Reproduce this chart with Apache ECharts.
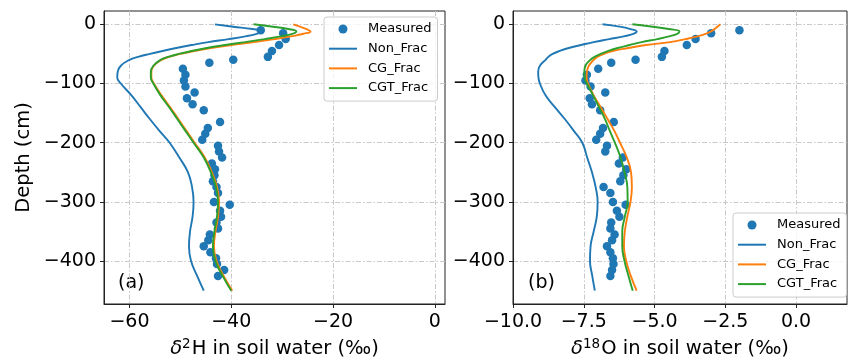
<!DOCTYPE html>
<html>
<head>
<meta charset="utf-8">
<script src="https://cdn.jsdelivr.net/npm/echarts@6/dist/echarts.min.js"></script>
<style>
html, body { margin: 0; padding: 0; background: #fff; }
#chart { width: 848px; height: 363px; }
</style>
</head>
<body>
<div id="chart"></div>
<script>
// measured soil water profile
const measDepth = [-10, -15, -25, -35, -45, -55, -60, -65, -75, -85, -95, -105, -115, -125, -135, -145,
  -165, -175, -185, -195, -205, -215, -225, -235, -245, -255, -265, -275, -285, -300, -305, -315,
  -325, -335, -345, -355, -365, -375, -385, -395, -405, -415, -425]
const measH = [-34.2, -29.8, -29.3, -30.6, -32.0, -32.8, -39.6, -44.3, -49.5, -49.0, -49.3, -49.0, -47.2, -48.7, -47.6, -45.4,
  -42.2, -44.6, -45.1, -45.7, -42.6, -42.4, -41.8, -43.8, -43.2, -43.3, -43.6, -42.9, -42.6, -43.4, -40.3, -42.2,
  -42.0, -42.9, -42.6, -44.2, -44.5, -45.4, -44.1, -43.0, -42.8, -41.4, -42.6]
const measO = [-2.0, -3.0, -3.55, -3.86, -4.65, -4.74, -5.67, -6.53, -6.99, -7.39, -7.44, -7.26, -6.74, -7.29, -7.21, -6.92,
  -6.44, -6.82, -6.92, -7.06, -6.68, -6.74, -6.12, -6.26, -6.0, -6.1, -6.21, -6.8, -6.56, -6.47, -6.02, -6.33,
  -6.24, -6.53, -6.56, -6.41, -6.5, -6.68, -6.56, -6.47, -6.45, -6.5, -6.56]

// simulated profiles
const modelDepth = [0, -4, -8, -12, -16, -20, -25, -30, -35, -40, -45, -50, -55, -60, -70, -80, -90, -100,
  -120, -140, -160, -180, -200, -225, -250, -275, -300, -325, -350, -375, -400, -425, -450]
const nonFracH = [-43.2, -39.6, -35.8, -33.8, -35.0, -37.0, -40.5, -44.5, -47.8, -50.8, -53.5, -56.0, -58.3, -60.0, -61.7, -62.3, -62.4, -61.7,
  -59.6, -57.8, -56.0, -54.1, -52.1, -50.2, -48.5, -47.7, -47.4, -47.6, -48.1, -48.3, -47.9, -46.7, -45.4]
const cgFracH = [-27.8, -26.5, -25.2, -24.4, -25.8, -28.0, -31.5, -35.5, -40.0, -44.0, -47.3, -50.0, -52.2, -53.7, -55.2, -55.7, -55.7, -55.2,
  -53.7, -52.0, -50.4, -48.8, -47.2, -45.2, -43.8, -42.8, -42.4, -42.6, -43.1, -43.4, -42.9, -41.5, -39.8]
const cgtFracH = [-35.6, -31.8, -28.8, -27.2, -28.0, -30.0, -33.5, -37.3, -41.2, -44.8, -47.8, -50.3, -52.4, -53.9, -55.3, -55.8, -55.8, -55.3,
  -53.9, -52.2, -50.6, -49.0, -47.4, -45.4, -44.0, -43.0, -42.6, -42.8, -43.3, -43.6, -43.1, -41.7, -40.0]
const nonFracO = [-6.84, -6.23, -5.85, -5.63, -5.75, -6.05, -6.6, -7.15, -7.6, -8.03, -8.35, -8.6, -8.75, -8.85, -9.05, -9.11, -9.1, -9.05,
  -8.85, -8.52, -8.17, -7.85, -7.55, -7.38, -7.21, -7.08, -7.01, -7.04, -7.15, -7.26, -7.28, -7.2, -7.11]
const cgFracO = [-2.67, -2.78, -2.88, -3.0, -3.2, -3.45, -3.9, -4.45, -5.3, -5.93, -6.48, -6.78, -7.02, -7.15, -7.32, -7.39, -7.4, -7.35,
  -7.15, -6.9, -6.66, -6.42, -6.22, -5.98, -5.83, -5.8, -5.85, -5.96, -6.05, -6.08, -6.0, -5.84, -5.63]
const cgtFracO = [-5.78, -5.06, -4.5, -4.12, -4.2, -4.45, -4.9, -5.45, -5.88, -6.3, -6.63, -6.9, -7.12, -7.27, -7.44, -7.48, -7.47, -7.39,
  -7.17, -6.96, -6.75, -6.58, -6.4, -6.2, -6.06, -5.96, -5.95, -6.05, -6.14, -6.14, -6.06, -5.92, -5.77]

const hTicks = [-60, -40, -20, 0]
const oTicks = [-10, -7.5, -5, -2.5, 0]
const depthTicks = [-400, -300, -200, -100, 0]
const names = ['Measured', 'Non_Frac', 'CG_Frac', 'CGT_Frac']
const colors = ['#1f77b4', '#1f77b4', '#ff7f0e', '#2ca02c']

const FONT = 'DejaVu Sans'
const pair = (xs, ys) => xs.map((x, i) => [x, ys[i]])
const minus = s => String(s).replace('-', '\u2212')
// plain horizontal stroke for the line entries of the legend
const LINE_ICON = 'path://M0,0h28v2h-28z'

const chart = echarts.init(document.getElementById('chart'), null, { renderer: 'canvas' })

const gridLine = { show: true, lineStyle: { color: '#c8c8c8', width: 1, type: [5, 2, 1.5, 2] } }
const nameStyle = {
  fontFamily: FONT, fontSize: 19.5, color: '#000',
  rich: {
    d: { fontFamily: FONT, fontSize: 19.5, fontStyle: 'italic', color: '#000', lineHeight: 24 },
    s: { fontFamily: FONT, fontSize: 13.5, color: '#000', verticalAlign: 'top', lineHeight: 24, padding: [0, 1, 0, 0] },
    n: { fontFamily: FONT, fontSize: 19.5, color: '#000', lineHeight: 24 }
  }
}

function xAxis (idx, min, max, ticks, fmt, name) {
  return {
    type: 'value', gridIndex: idx, min: min, max: max,
    axisLine: { show: true, onZero: false, lineStyle: { color: '#222', width: 1 } },
    axisTick: { show: true, length: 4, customValues: ticks, lineStyle: { color: '#222' } },
    axisLabel: { customValues: ticks, formatter: fmt, color: '#000', fontFamily: FONT, fontSize: 19, margin: 9 },
    splitLine: gridLine,
    name: name, nameLocation: 'middle', nameGap: 33, nameMoveOverlap: false,
    nameTextStyle: nameStyle
  }
}
function yAxis (idx, name) {
  return {
    type: 'value', gridIndex: idx, min: -472.5, max: 22.5,
    axisLine: { show: true, onZero: false, lineStyle: { color: '#222', width: 1 } },
    axisTick: { show: true, length: 4, customValues: depthTicks, lineStyle: { color: '#222' } },
    axisLabel: { customValues: depthTicks, formatter: v => minus(v), color: '#000', fontFamily: FONT, fontSize: 19, margin: 8 },
    splitLine: gridLine,
    name: name, nameLocation: 'middle', nameGap: 70, nameRotate: 90, nameMoveOverlap: false,
    nameTextStyle: { fontFamily: FONT, fontSize: 19.5, color: '#000' }
  }
}

function panelSeries (idx, meas, lines) {
  const out = [{
    name: names[0], type: 'scatter', xAxisIndex: idx, yAxisIndex: idx,
    data: pair(meas, measDepth), symbolSize: 8.5,
    itemStyle: { color: colors[0], opacity: 1 }
  }]
  lines.forEach((vals, i) => {
    out.push({
      name: names[i + 1], type: 'line', xAxisIndex: idx, yAxisIndex: idx,
      data: pair(vals, modelDepth), symbol: 'none', smooth: 0.45,
      lineStyle: { color: colors[i + 1], width: 1.9 },
      itemStyle: { color: colors[i + 1] }
    })
  })
  return out
}

function legend (left, top) {
  return {
    left: left, top: top, orient: 'vertical', selectedMode: false,
    itemWidth: 28, itemHeight: 9, itemGap: 6.7,
    padding: [5.5, 6, 6.5, 5],
    backgroundColor: 'rgba(255,255,255,0.8)', borderColor: '#cccccc', borderWidth: 1, borderRadius: 3,
    textStyle: { fontFamily: FONT, fontSize: 13, color: '#000', padding: [0, 0, 0, 6] },
    data: [
      { name: 'Measured', icon: 'circle' },
      { name: 'Non_Frac', icon: LINE_ICON },
      { name: 'CG_Frac', icon: LINE_ICON },
      { name: 'CGT_Frac', icon: LINE_ICON }
    ]
  }
}

const option = {
  animation: false,
  backgroundColor: '#fff',
  grid: [
    { left: 104, top: 11, width: 341, height: 293, show: true, borderColor: '#222', borderWidth: 1, outerBoundsMode: 'none' },
    { left: 513, top: 11, width: 334, height: 293, show: true, borderColor: '#222', borderWidth: 1, outerBoundsMode: 'none' }
  ],
  xAxis: [
    xAxis(0, -65, 2, hTicks, v => minus(v), '{d|δ}{s|2}{n|H in soil water (‰)}'),
    xAxis(1, -10, 1.8, oTicks, v => minus(v.toFixed(1)), '{d|δ}{s|18}{n|O in soil water (‰)}')
  ],
  yAxis: [yAxis(0, 'Depth (cm)'), yAxis(1, '')],
  legend: [legend(324, 17), legend(733, 213)],
  graphic: [
    { type: 'text', left: 118, top: 273.5, style: { text: '(a)', font: '19px "DejaVu Sans"', fill: '#000' } },
    { type: 'text', left: 528, top: 273.5, style: { text: '(b)', font: '19px "DejaVu Sans"', fill: '#000' } }
  ],
  series: panelSeries(0, measH, [nonFracH, cgFracH, cgtFracH])
    .concat(panelSeries(1, measO, [nonFracO, cgFracO, cgtFracO]))
}

chart.setOption(option)
</script>
</body>
</html>
